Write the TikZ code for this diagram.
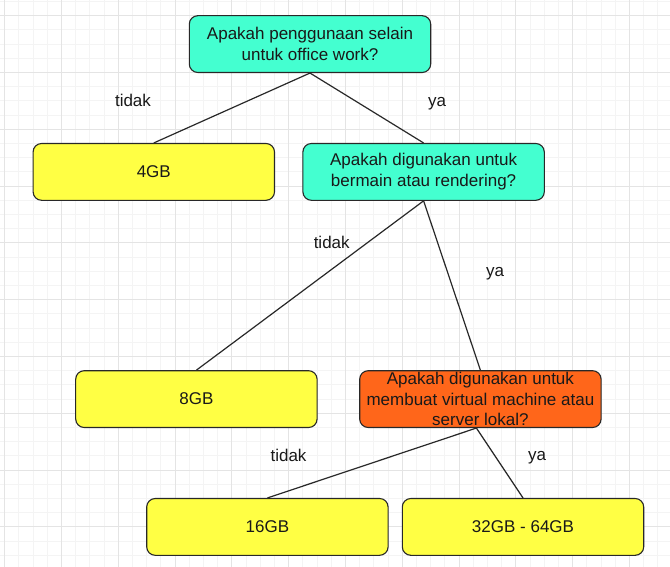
\documentclass[tikz,border=0pt]{standalone}
\usepackage{fontspec}
\setmainfont{Liberation Sans}
\definecolor{tealbox}{RGB}{68,255,208}
\definecolor{yellowbox}{RGB}{255,255,68}
\definecolor{orangebox}{RGB}{255,102,26}
\definecolor{borderc}{RGB}{40,40,40}
\definecolor{textc}{RGB}{25,25,25}
\definecolor{gridminor}{RGB}{244,244,244}
\definecolor{gridmajor}{RGB}{228,228,228}
\tikzset{
  box/.style={draw=borderc, line width=1.1bp, rounded corners=8.5bp,
    minimum width=241.4bp, minimum height=56.8bp, inner sep=0pt,
    align=center, text=textc, font=\fontsize{17bp}{20.8bp}\selectfont},
  qteal/.style={box, fill=tealbox},
  ryellow/.style={box, fill=yellowbox},
  qorange/.style={box, fill=orangebox},
  edge/.style={draw=borderc, line width=1.2bp},
  lbl/.style={text=textc, inner sep=0pt, font=\fontsize{17bp}{20bp}\selectfont},
  gminor/.style={draw=gridminor, line width=1bp},
  gmajor/.style={draw=gridmajor, line width=1bp}
}
\begin{document}
\begin{tikzpicture}[x=1bp,y=-1bp]
\useasboundingbox (0,0) rectangle (670,567);
\fill[white] (0,0) rectangle (670,567);
% grid
\foreach \k in {0,...,46} {\pgfmathsetmacro\xx{4.7+14.2*\k}\draw[gminor] (\xx,0) -- (\xx,567);}
\foreach \k in {-1,...,38} {\pgfmathsetmacro\yy{15.7+14.2*\k}\draw[gminor] (0,\yy) -- (670,\yy);}
\foreach \k in {0,4,...,44} {\pgfmathsetmacro\xx{4.7+14.2*\k}\draw[gmajor] (\xx,0) -- (\xx,567);}
\foreach \k in {0,4,...,36} {\pgfmathsetmacro\yy{15.7+14.2*\k}\draw[gmajor] (0,\yy) -- (670,\yy);}
% nodes
\node[qteal] (q1) at (310,44.1) {Apakah penggunaan selain\\untuk office work?};
\node[ryellow] (r4) at (153.8,171.9) {4GB};
\node[qteal] (q2) at (423.6,171.9) {Apakah digunakan untuk\\bermain atau rendering?};
\node[ryellow] (r8) at (196.4,399.1) {8GB};
\node[qorange] (q3) at (480.4,399.1) {Apakah digunakan untuk\\membuat virtual machine atau\\server lokal?};
\node[ryellow] (r16) at (267.4,526.9) {16GB};
\node[ryellow] (r32) at (523,526.9) {32GB - 64GB};
% edges
\draw[edge] (q1.south) -- (r4.north);
\draw[edge] (q1.south) -- (q2.north);
\draw[edge] (q2.south) -- (r8.north);
\draw[edge] (q2.south) -- (q3.north);
\draw[edge] ([xshift=-4bp]q3.south) -- (r16.north);
\draw[edge] ([xshift=-4bp]q3.south) -- (r32.north);
% labels
\node[lbl] (l1) at (133,100) {tidak};
\node[lbl] (l2) at (437,103.5) {ya};
\node[lbl] (l3) at (331.7,242.5) {tidak};
\node[lbl] (l4) at (495,273.5) {ya};
\node[lbl] (l5) at (288.5,455) {tidak};
\node[lbl] (l6) at (537,458) {ya};
\end{tikzpicture}
\end{document}
